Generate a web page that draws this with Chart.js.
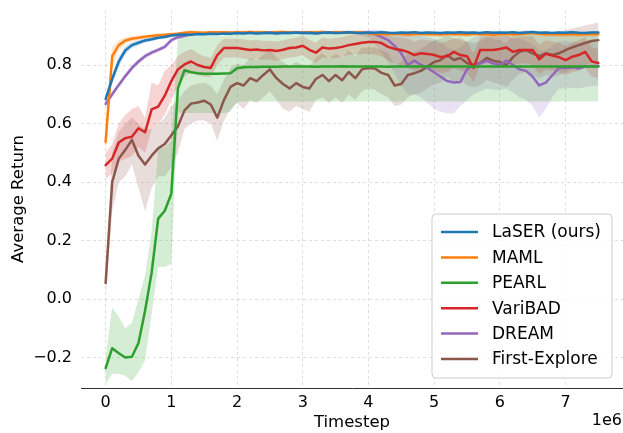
<!DOCTYPE html>
<html><head><meta charset="utf-8">
<script src="https://cdn.jsdelivr.net/npm/chart.js@4"></script>
<style>html,body{margin:0;padding:0;background:#fff;}#wrap{width:623px;height:433px;position:relative;}</style>
</head><body><div id="wrap"><canvas id="c" width="623" height="433"></canvas></div>
<script>
// Timesteps in units of 1e6
const timesteps = [
0.0,0.1,0.2,0.3,0.4,0.5,0.6,0.7,0.8,0.9,
1.0,1.1,1.2,1.3,1.4,1.5,1.6,1.7,1.8,1.9,
2.0,2.1,2.2,2.3,2.4,2.5,2.6,2.7,2.8,2.9,
3.0,3.1,3.2,3.3,3.4,3.5,3.6,3.7,3.8,3.9,
4.0,4.1,4.2,4.3,4.4,4.5,4.6,4.7,4.8,4.9,
5.0,5.1,5.2,5.3,5.4,5.5,5.6,5.7,5.8,5.9,
6.0,6.1,6.2,6.3,6.4,6.5,6.6,6.7,6.8,6.9,
7.0,7.1,7.2,7.3,7.4,7.5];
const xTicks = [0,1,2,3,4,5,6,7];
const yTicks = [-0.2,0.0,0.2,0.4,0.6,0.8];

const laserMean = [
0.684,0.752,0.812,0.850,0.868,0.876,0.884,0.888,0.893,0.896,
0.901,0.903,0.904,0.903,0.906,0.905,0.907,0.906,0.908,0.907,
0.909,0.908,0.910,0.908,0.909,0.910,0.908,0.910,0.909,0.911,
0.909,0.910,0.908,0.910,0.911,0.909,0.910,0.912,0.910,0.909,
0.911,0.910,0.912,0.910,0.909,0.911,0.910,0.912,0.909,0.911,
0.910,0.909,0.911,0.910,0.912,0.910,0.911,0.909,0.912,0.910,
0.911,0.910,0.912,0.909,0.911,0.913,0.910,0.911,0.909,0.911,
0.910,0.912,0.910,0.909,0.911,0.911];
const laserLo = [
0.672,0.735,0.795,0.836,0.857,0.867,0.876,0.881,0.887,0.890,
0.896,0.898,0.899,0.898,0.901,0.900,0.902,0.901,0.903,0.902,
0.904,0.903,0.905,0.903,0.904,0.905,0.903,0.905,0.904,0.906,
0.904,0.905,0.903,0.905,0.906,0.904,0.905,0.907,0.905,0.904,
0.906,0.905,0.907,0.905,0.904,0.906,0.905,0.907,0.904,0.906,
0.905,0.904,0.906,0.905,0.907,0.905,0.906,0.904,0.907,0.905,
0.906,0.905,0.907,0.904,0.906,0.908,0.905,0.906,0.904,0.906,
0.905,0.907,0.905,0.904,0.906,0.906];
const laserHi = [
0.696,0.768,0.828,0.864,0.879,0.885,0.892,0.895,0.899,0.902,
0.906,0.908,0.909,0.908,0.911,0.910,0.912,0.911,0.913,0.912,
0.914,0.913,0.915,0.913,0.914,0.915,0.913,0.915,0.914,0.916,
0.914,0.915,0.913,0.915,0.916,0.914,0.915,0.917,0.915,0.914,
0.916,0.915,0.917,0.915,0.914,0.916,0.915,0.917,0.914,0.916,
0.915,0.914,0.916,0.915,0.917,0.915,0.916,0.914,0.917,0.915,
0.916,0.915,0.917,0.914,0.916,0.918,0.915,0.916,0.914,0.916,
0.915,0.917,0.915,0.914,0.916,0.916];

const mamlMean = [
0.537,0.830,0.868,0.884,0.890,0.893,0.897,0.899,0.902,0.903,
0.905,0.907,0.910,0.912,0.911,0.910,0.912,0.911,0.912,0.910,
0.912,0.911,0.913,0.911,0.912,0.910,0.912,0.913,0.911,0.912,
0.910,0.912,0.911,0.913,0.910,0.912,0.911,0.910,0.912,0.911,
0.909,0.906,0.907,0.905,0.907,0.906,0.904,0.906,0.907,0.905,
0.906,0.904,0.907,0.905,0.906,0.904,0.907,0.905,0.906,0.903,
0.905,0.907,0.904,0.906,0.908,0.910,0.907,0.905,0.906,0.904,
0.905,0.906,0.904,0.905,0.906,0.905];
const mamlLo = [
0.500,0.790,0.850,0.872,0.881,0.885,0.890,0.892,0.896,0.897,
0.899,0.901,0.904,0.906,0.905,0.904,0.906,0.905,0.906,0.904,
0.906,0.905,0.907,0.905,0.906,0.904,0.906,0.907,0.905,0.906,
0.904,0.906,0.905,0.907,0.904,0.906,0.905,0.904,0.906,0.905,
0.902,0.898,0.899,0.897,0.899,0.898,0.896,0.898,0.899,0.897,
0.898,0.896,0.899,0.897,0.898,0.896,0.899,0.897,0.898,0.895,
0.897,0.899,0.896,0.898,0.900,0.902,0.899,0.897,0.898,0.896,
0.897,0.898,0.896,0.897,0.898,0.897];
const mamlHi = [
0.580,0.860,0.885,0.895,0.899,0.901,0.904,0.906,0.908,0.909,
0.911,0.913,0.916,0.918,0.917,0.916,0.918,0.917,0.918,0.916,
0.918,0.917,0.919,0.917,0.918,0.916,0.918,0.919,0.917,0.918,
0.916,0.918,0.917,0.919,0.916,0.918,0.917,0.916,0.918,0.917,
0.915,0.913,0.914,0.912,0.914,0.913,0.911,0.913,0.914,0.912,
0.913,0.911,0.914,0.912,0.913,0.911,0.914,0.912,0.913,0.910,
0.912,0.914,0.911,0.913,0.915,0.917,0.914,0.912,0.913,0.911,
0.912,0.913,0.911,0.912,0.913,0.912];

const pearlMean = [
-0.236,-0.168,-0.185,-0.200,-0.197,-0.150,-0.040,0.090,0.275,0.302,
0.360,0.720,0.782,0.775,0.772,0.770,0.770,0.770,0.771,0.772,
0.789,0.792,0.793,0.793,0.794,0.794,0.794,0.795,0.795,0.795,
0.795,0.795,0.794,0.795,0.795,0.795,0.796,0.795,0.795,0.795,
0.795,0.795,0.795,0.794,0.795,0.795,0.795,0.795,0.795,0.795,
0.795,0.795,0.795,0.795,0.795,0.795,0.794,0.795,0.795,0.795,
0.795,0.795,0.795,0.795,0.795,0.795,0.795,0.795,0.795,0.795,
0.795,0.795,0.795,0.795,0.795,0.795];
const pearlLo = [
-0.290,-0.255,-0.255,-0.262,-0.280,-0.250,-0.210,-0.050,0.110,0.110,
0.120,0.636,0.636,0.636,0.636,0.636,0.636,0.636,0.636,0.640,
0.675,0.675,0.675,0.675,0.675,0.675,0.675,0.675,0.675,0.675,
0.675,0.675,0.675,0.675,0.675,0.675,0.675,0.675,0.675,0.675,
0.675,0.675,0.675,0.675,0.675,0.675,0.675,0.675,0.675,0.675,
0.675,0.675,0.675,0.675,0.675,0.675,0.675,0.675,0.675,0.675,
0.675,0.675,0.675,0.675,0.675,0.675,0.675,0.675,0.675,0.675,
0.675,0.675,0.675,0.675,0.675,0.675];
const pearlHi = [
-0.200,-0.030,-0.060,-0.100,-0.080,0.000,0.080,0.230,0.510,0.520,
0.540,0.890,0.900,0.900,0.900,0.900,0.900,0.900,0.900,0.905,
0.910,0.910,0.910,0.910,0.910,0.910,0.910,0.910,0.910,0.910,
0.910,0.910,0.910,0.910,0.910,0.910,0.910,0.910,0.910,0.910,
0.910,0.910,0.910,0.910,0.910,0.910,0.910,0.910,0.910,0.910,
0.910,0.910,0.910,0.910,0.910,0.910,0.910,0.910,0.910,0.910,
0.910,0.910,0.910,0.910,0.910,0.910,0.910,0.910,0.910,0.910,
0.910,0.910,0.910,0.910,0.910,0.910];

const varibadMean = [
0.458,0.480,0.535,0.550,0.555,0.584,0.570,0.648,0.658,0.695,
0.745,0.785,0.802,0.812,0.800,0.793,0.790,0.834,0.858,0.858,
0.858,0.855,0.851,0.853,0.850,0.851,0.848,0.852,0.858,0.860,
0.866,0.852,0.842,0.860,0.856,0.858,0.862,0.868,0.872,0.876,
0.879,0.879,0.875,0.862,0.855,0.851,0.845,0.834,0.840,0.838,
0.834,0.827,0.830,0.845,0.834,0.830,0.790,0.851,0.851,0.851,
0.855,0.860,0.845,0.851,0.851,0.851,0.820,0.838,0.832,0.827,
0.817,0.828,0.834,0.845,0.812,0.807];
const varibadLo = [
0.410,0.430,0.470,0.480,0.490,0.520,0.500,0.580,0.600,0.630,
0.680,0.730,0.760,0.775,0.765,0.760,0.758,0.800,0.825,0.826,
0.826,0.822,0.818,0.820,0.818,0.819,0.815,0.820,0.826,0.828,
0.833,0.818,0.808,0.826,0.822,0.824,0.828,0.834,0.836,0.838,
0.838,0.836,0.830,0.815,0.805,0.800,0.790,0.780,0.785,0.785,
0.780,0.772,0.775,0.790,0.780,0.775,0.740,0.800,0.805,0.805,
0.810,0.815,0.800,0.805,0.805,0.800,0.770,0.785,0.780,0.775,
0.765,0.775,0.780,0.790,0.760,0.755];
const varibadHi = [
0.500,0.530,0.600,0.630,0.650,0.660,0.620,0.740,0.730,0.780,
0.800,0.830,0.845,0.855,0.840,0.830,0.825,0.868,0.890,0.890,
0.890,0.888,0.884,0.886,0.882,0.883,0.880,0.884,0.890,0.892,
0.899,0.886,0.876,0.894,0.890,0.892,0.896,0.902,0.905,0.908,
0.912,0.914,0.912,0.900,0.895,0.895,0.890,0.880,0.888,0.885,
0.882,0.875,0.880,0.892,0.885,0.880,0.840,0.895,0.897,0.897,
0.900,0.905,0.890,0.897,0.897,0.898,0.870,0.885,0.880,0.875,
0.865,0.875,0.885,0.895,0.860,0.855];

const dreamMean = [
0.667,0.700,0.732,0.762,0.790,0.812,0.830,0.842,0.852,0.862,
0.885,0.895,0.900,0.905,0.908,0.908,0.909,0.910,0.910,0.910,
0.910,0.911,0.910,0.911,0.910,0.911,0.911,0.910,0.911,0.911,
0.911,0.910,0.911,0.911,0.910,0.911,0.911,0.912,0.911,0.911,
0.910,0.905,0.895,0.885,0.865,0.840,0.800,0.815,0.800,0.790,
0.775,0.760,0.745,0.740,0.742,0.785,0.800,0.805,0.815,0.805,
0.800,0.815,0.800,0.785,0.780,0.760,0.730,0.740,0.765,0.790,
0.790,0.792,0.788,0.795,0.797,0.797];
const dreamLo = [
0.655,0.690,0.722,0.752,0.780,0.803,0.821,0.834,0.844,0.854,
0.877,0.888,0.893,0.899,0.902,0.902,0.903,0.904,0.904,0.904,
0.904,0.905,0.904,0.905,0.904,0.905,0.905,0.904,0.905,0.905,
0.905,0.904,0.905,0.905,0.904,0.905,0.905,0.906,0.905,0.900,
0.895,0.870,0.840,0.810,0.770,0.730,0.700,0.700,0.690,0.670,
0.650,0.640,0.635,0.635,0.660,0.680,0.700,0.710,0.720,0.715,
0.715,0.720,0.705,0.690,0.680,0.660,0.620,0.650,0.690,0.720,
0.720,0.722,0.720,0.725,0.728,0.730];
const dreamHi = [
0.679,0.710,0.742,0.772,0.800,0.821,0.839,0.850,0.860,0.870,
0.893,0.902,0.907,0.911,0.914,0.914,0.915,0.916,0.916,0.916,
0.916,0.917,0.916,0.917,0.916,0.917,0.917,0.916,0.917,0.917,
0.917,0.916,0.917,0.917,0.916,0.917,0.917,0.918,0.917,0.918,
0.920,0.922,0.920,0.915,0.910,0.905,0.900,0.905,0.900,0.895,
0.890,0.880,0.860,0.850,0.860,0.880,0.895,0.900,0.905,0.900,
0.895,0.900,0.895,0.890,0.880,0.870,0.850,0.850,0.865,0.880,
0.880,0.880,0.878,0.882,0.885,0.885];

const firstExploreMean = [
0.055,0.400,0.480,0.510,0.544,0.490,0.460,0.490,0.515,0.530,
0.560,0.590,0.645,0.668,0.672,0.678,0.665,0.620,0.680,0.725,
0.738,0.730,0.755,0.745,0.766,0.785,0.755,0.735,0.720,0.738,
0.725,0.720,0.752,0.766,0.745,0.766,0.748,0.776,0.755,0.785,
0.790,0.788,0.773,0.766,0.730,0.735,0.766,0.772,0.780,0.795,
0.810,0.817,0.834,0.817,0.824,0.807,0.800,0.807,0.824,0.815,
0.810,0.800,0.827,0.845,0.851,0.840,0.830,0.840,0.834,0.840,
0.851,0.860,0.868,0.875,0.882,0.885];
const firstExploreLo = [
0.000,0.300,0.400,0.420,0.460,0.380,0.300,0.380,0.420,0.420,
0.450,0.500,0.580,0.600,0.610,0.610,0.600,0.540,0.610,0.650,
0.670,0.650,0.680,0.670,0.690,0.710,0.680,0.650,0.640,0.660,
0.650,0.640,0.680,0.690,0.670,0.690,0.670,0.700,0.680,0.710,
0.720,0.715,0.700,0.690,0.660,0.665,0.690,0.700,0.705,0.720,
0.735,0.740,0.760,0.740,0.750,0.730,0.725,0.730,0.750,0.740,
0.735,0.725,0.750,0.770,0.775,0.765,0.755,0.765,0.760,0.765,
0.775,0.785,0.795,0.800,0.808,0.810];
const firstExploreHi = [
0.100,0.500,0.570,0.600,0.620,0.600,0.580,0.580,0.600,0.620,
0.660,0.680,0.710,0.730,0.735,0.740,0.730,0.700,0.750,0.790,
0.805,0.800,0.825,0.815,0.835,0.855,0.825,0.810,0.795,0.810,
0.800,0.795,0.825,0.840,0.820,0.840,0.825,0.850,0.830,0.860,
0.860,0.860,0.850,0.840,0.800,0.810,0.840,0.845,0.855,0.870,
0.885,0.890,0.905,0.890,0.895,0.880,0.875,0.880,0.895,0.890,
0.885,0.875,0.900,0.915,0.920,0.910,0.900,0.910,0.905,0.910,
0.920,0.925,0.930,0.935,0.940,0.945];

const seriesNames = ['LaSER (ours)','MAML','PEARL','VariBAD','DREAM','First-Explore'];
const seriesColors = ['#1f77b4','#ff7f0e','#2ca02c','#d62728','#9467bd','#8c564b'];
const seriesMeans = [laserMean, mamlMean, pearlMean, varibadMean, dreamMean, firstExploreMean];
const seriesLows  = [laserLo, mamlLo, pearlLo, varibadLo, dreamLo, firstExploreLo];
const seriesHighs = [laserHi, mamlHi, pearlHi, varibadHi, dreamHi, firstExploreHi];

function pts(arr){ return arr.map((v,i)=>({x:timesteps[i], y:v})); }
function rgba(hex,a){
  const n=parseInt(hex.slice(1),16);
  return `rgba(${(n>>16)&255},${(n>>8)&255},${n&255},${a})`;
}

const datasets = [];
seriesNames.forEach((name,i)=>{
  datasets.push({label:name+' lo', isBand:true, data:pts(seriesLows[i]), borderWidth:0, pointRadius:0, fill:false, order:100});
  datasets.push({label:name+' hi', isBand:true, data:pts(seriesHighs[i]), borderWidth:0, pointRadius:0, fill:'-1', backgroundColor:rgba(seriesColors[i],0.2), order:100});
});
seriesNames.forEach((name,i)=>{
  datasets.push({label:name, data:pts(seriesMeans[i]), borderColor:seriesColors[i], backgroundColor:seriesColors[i], borderWidth:2.5, pointRadius:0, fill:false, tension:0, order:i+1, borderJoinStyle:'round', borderCapStyle:'round'});
});

const FONT = "'DejaVu Sans', sans-serif";
Chart.defaults.font.family = FONT;
Chart.defaults.color = '#000';

const overlay = {
  id:'overlay',
  afterDraw(chart){
    const ctx = chart.ctx;
    ctx.save();
    ctx.font = "16px " + FONT;
    ctx.fillStyle = '#000';
    ctx.textAlign = 'right';
    ctx.textBaseline = 'middle';
    ctx.fillText('1e6', 622, 421);
    const lx=432, ly=214, lw=180, lh=164, r=4;
    ctx.beginPath();
    ctx.moveTo(lx+r,ly); ctx.lineTo(lx+lw-r,ly); ctx.arcTo(lx+lw,ly,lx+lw,ly+r,r);
    ctx.lineTo(lx+lw,ly+lh-r); ctx.arcTo(lx+lw,ly+lh,lx+lw-r,ly+lh,r);
    ctx.lineTo(lx+r,ly+lh); ctx.arcTo(lx,ly+lh,lx,ly+lh-r,r);
    ctx.lineTo(lx,ly+r); ctx.arcTo(lx,ly,lx+r,ly,r); ctx.closePath();
    ctx.fillStyle='rgba(255,255,255,0.8)'; ctx.fill();
    ctx.strokeStyle='#cccccc'; ctx.lineWidth=1; ctx.stroke();
    const items = chart.data.datasets.filter(d=>!d.isBand);
    ctx.font = "17px " + FONT;
    ctx.textAlign='left'; ctx.textBaseline='middle';
    items.forEach((d,i)=>{
      const y = 232 + i*25.4;
      ctx.beginPath(); ctx.moveTo(441,y); ctx.lineTo(478,y);
      ctx.strokeStyle=d.borderColor; ctx.lineWidth=2.5; ctx.stroke();
      ctx.fillStyle='#000';
      ctx.fillText(d.label, 492, y+1);
    });
    ctx.restore();
  }
};

new Chart(document.getElementById('c'), {
  type:'line',
  data:{datasets},
  plugins:[overlay],
  options:{
    responsive:false,
    animation:false,
    devicePixelRatio:1,
    layout:{padding:{top:10,left:0,right:0,bottom:0}},
    plugins:{legend:{display:false}, tooltip:{enabled:false}},
    scales:{
      x:{
        type:'linear', min:-0.375, max:7.875,
        afterBuildTicks:(s)=>{ s.ticks = xTicks.map(v=>({value:v})); },
        afterFit:(s)=>{ s.height = 45; s.paddingLeft = 0; s.paddingRight = 0; },
        ticks:{font:{size:16}, color:'#000', padding:5, maxRotation:0, callback:(v)=>String(v)},
        grid:{color:'rgba(0,0,0,0.16)', lineWidth:0.8, drawTicks:false},
        border:{display:true, color:'#333333', width:1, dash:[3,3]},
        title:{display:true, text:'Timestep', font:{size:16.5}, color:'#000', padding:{top:0,bottom:0}}
      },
      y:{
        type:'linear', min:-0.304, max:0.988,
        afterBuildTicks:(s)=>{ s.ticks = yTicks.map(v=>({value:v})); },
        afterFit:(s)=>{ s.width = 81; s.paddingTop = 0; s.paddingBottom = 0; },
        ticks:{font:{size:16}, color:'#000', padding:9, callback:(v)=> (v<0?'\u2212':'') + Math.abs(v).toFixed(1)},
        grid:{color:'rgba(0,0,0,0.16)', lineWidth:0.8, drawTicks:false},
        border:{display:false, dash:[3,3]},
        title:{display:true, text:'Average Return', font:{size:16.5}, color:'#000', padding:{top:9,bottom:0}}
      }
    }
  }
});
</script>
</body></html>
